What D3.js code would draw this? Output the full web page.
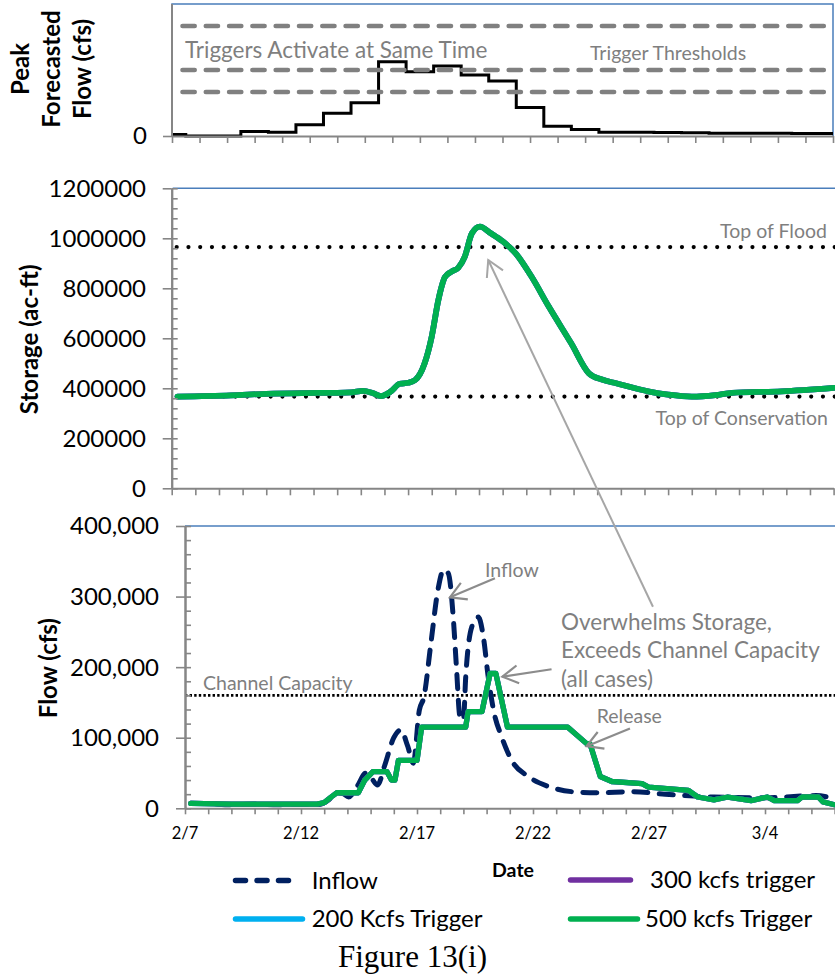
<!DOCTYPE html>
<html>
<head>
<meta charset="utf-8">
<script src="https://cdn.jsdelivr.net/npm/d3@7"></script>
<style>
  html, body { margin: 0; padding: 0; background: #fff; }
  svg { display: block; font-family: Lato, "Open Sans", sans-serif; }
</style>
</head>
<body>
<svg id="chart" width="835" height="979"></svg>
<script>
// ---------- data ----------
// Peak forecasted flow (cfs), one value per forecast issue; the first value is
// carried over from the forecast issued before the window.
const peakForecastBefore = 7000;
const peakForecast = [0, 500, 20000, 17000, 51000, 103000, 151000, 338000, 292000, 318000,
  277000, 250000, 129000, 44000, 30000, 17000, 17000, 16000, 15000, 12000,
  12000, 12000, 11000, 11000];
const triggerThresholds = [200000, 300000, 500000];

// Reservoir storage (ac-ft), day offset from 2/7
const storageDays = [0.25, 2.5, 4, 5.5, 7, 7.6, 8.1, 8.5, 8.85, 9.25, 9.65, 10.0, 10.3, 10.7,
  11.0, 11.28, 11.56, 11.84, 12.12, 12.4, 12.7, 13.04, 13.5, 14.0, 14.55, 15.2, 15.95,
  16.9, 17.65, 18.2, 18.8, 20.2, 21.0, 22.0, 23.0, 23.7, 25.8, 28.0];
const storageValues = [367000, 372000, 378000, 381000, 382000, 384000, 390000, 381000, 369000,
  386000, 418000, 422000, 433000, 500000, 607000, 753000, 845000, 867000, 882000, 927000,
  1020000, 1047000, 1020000, 988000, 940000, 850000, 727000, 580000, 460000, 435000, 420000,
  387000, 375000, 367000, 373000, 382000, 388000, 402000];
const topOfFlood = 965000;
const topOfConservation = 367000;
const storageTicks = [0, 200000, 400000, 600000, 800000, 1000000, 1200000];

// Inflow and release (cfs), day offset from 2/7
const inflowDays = [0.25, 1, 2, 3, 4, 5, 5.8, 6.2, 6.5, 6.8, 7.05, 7.4, 7.8, 8.05, 8.3, 8.6,
  9.0, 9.3, 9.6, 9.84, 10.1, 10.3, 10.6, 10.9, 11.15, 11.35, 11.57, 11.7, 11.85, 12.0, 12.1,
  12.36, 12.64, 12.86, 13.07, 13.3, 13.65, 14.08, 14.8, 15.66, 16.7, 17.8, 19.25, 20.7, 22.8,
  25.0, 27.2, 28.0];
const inflowValues = [7000, 6500, 5000, 6000, 5000, 5500, 5500, 12000, 22000, 21000, 16000,
  30000, 50000, 42000, 33000, 60000, 100000, 111000, 88000, 64000, 139000, 158000, 234000,
  309000, 338000, 333000, 267000, 200000, 130000, 125000, 186000, 257000, 271000, 243000,
  186000, 139000, 101000, 68000, 45000, 31000, 23500, 22000, 23500, 20000, 16000, 15000,
  18000, 13600];
const releaseDays = [0.25, 2, 5.7, 6.0, 6.3, 6.54, 7.47, 7.75, 8.1, 8.7, 8.9, 9.05, 9.2, 10.0,
  10.2, 12.1, 12.2, 12.8, 13.15, 13.4, 13.9, 16.5, 17.3, 17.46, 17.9, 18.4, 19.7, 19.98,
  21.7, 22.1, 22.8, 23.4, 24.4, 25.1, 25.4, 26.4, 26.6, 27.3, 27.5, 28.0];
const releaseValues = [7000, 6000, 6000, 8000, 16000, 22000, 22000, 40000, 52000, 52000,
  40000, 40000, 68000, 68000, 115000, 115000, 137000, 137000, 191000, 191000, 115000, 115000,
  92000, 91000, 45000, 38000, 35000, 30000, 25500, 16000, 12000, 16000, 11000, 16000, 11000,
  11000, 16000, 16000, 9000, 5000];
const channelCapacity = 160000;
const flowTicks = [0, 100000, 200000, 300000, 400000];
const dateLabels = ["2/7", "2/12", "2/17", "2/22", "2/27", "3/4"];

// Release series for each trigger scenario (all triggers fire together, so they coincide)
const scenarios = [
  { name: "200 Kcfs Trigger", color: "#00B0F0" },
  { name: "300 kcfs trigger", color: "#7030A0" },
  { name: "500 kcfs Trigger", color: "#00B050" }
];

// ---------- styles ----------
const AXIS = "#868686", BORDER = "#4a7ebb", NOTE = "#7f7f7f", ARROW = "#8c8c8c";
const INFLOW = "#002060";

const svg = d3.select("#chart");

function styleAxis(g) {
  g.select(".domain").attr("stroke", AXIS).attr("stroke-width", 2);
  g.selectAll(".tick line").attr("stroke", AXIS).attr("stroke-width", 1.6);
  g.selectAll(".tick text").remove();
}

function arrow(g, x1, y1, x2, y2, color, w) {
  const a = Math.atan2(y1 - y2, x1 - x2), L = 18, s = 0.52;
  g.append("line").attr("x1", x1).attr("y1", y1).attr("x2", x2).attr("y2", y2)
    .attr("stroke", color).attr("stroke-width", w);
  g.append("path")
    .attr("d", `M${x2 + L * Math.cos(a - s)},${y2 + L * Math.sin(a - s)}L${x2},${y2}L${x2 + L * Math.cos(a + s)},${y2 + L * Math.sin(a + s)}`)
    .attr("fill", "none").attr("stroke", color).attr("stroke-width", w)
    .attr("stroke-linejoin", "miter");
}

function note(g, x, y, text, size, anchor) {
  return g.append("text").attr("x", x).attr("y", y).attr("dy", "0.35em")
    .attr("text-anchor", anchor || "start").attr("fill", NOTE)
    .style("font-size", size + "px").text(text);
}

// ---------- top panel: peak forecasted flow ----------
const xTop = d3.scaleLinear().domain([-0.5, 23.5]).range([172, 833]);
const yTop = d3.scaleLinear().domain([0, 600000]).range([136, 4]);
const topG = svg.append("g");

topG.append("path")
  .attr("d", `M${xTop(-0.5)},${yTop(0)}V${yTop(600000)}H${xTop(23.5)}V${yTop(0)}`)
  .attr("fill", "none").attr("stroke", BORDER).attr("stroke-width", 1.5);

const stepPts = [{ x: -0.5, v: peakForecastBefore }]
  .concat(peakForecast.map((v, i) => ({ x: i, v })))
  .concat([{ x: 23.5, v: peakForecast[peakForecast.length - 1] }]);
topG.append("path").datum(stepPts)
  .attr("d", d3.line().x(d => xTop(d.x)).y(d => yTop(d.v)).curve(d3.curveStepAfter))
  .attr("fill", "none").attr("stroke", "#000").attr("stroke-width", 3);

topG.selectAll("line.thr").data(triggerThresholds).join("line")
  .attr("x1", xTop(-0.5)).attr("x2", xTop(23.5))
  .attr("y1", d => yTop(d)).attr("y2", d => yTop(d))
  .attr("stroke", "#808080").attr("stroke-width", 4.6)
  .attr("stroke-linecap", "round")
  .attr("stroke-dasharray", "12.2 11.1").attr("stroke-dashoffset", -10.5);

topG.append("g").attr("transform", `translate(0,${yTop(0)})`)
  .call(d3.axisBottom(xTop).tickValues(d3.range(25).map(i => i - 0.5)).tickSize(7).tickSizeOuter(0))
  .call(styleAxis);
topG.append("g").attr("transform", `translate(${xTop(-0.5)},0)`)
  .call(d3.axisLeft(yTop).tickValues([0]).tickSize(9).tickSizeOuter(0))
  .call(styleAxis)
  .call(g => g.select(".domain").attr("d", `M0,${yTop(0)}V${yTop(600000)}`));
topG.append("text").attr("x", 147).attr("y", yTop(0)).attr("dy", "0.35em")
  .attr("text-anchor", "end").style("font-size", "24px").text("0");

note(topG, 185, 50, "Triggers Activate at Same Time", 22.5);
note(topG, 590, 53, "Trigger Thresholds", 19.5);

const topTitle = topG.append("text").attr("transform", "translate(0,69) rotate(-90)")
  .attr("text-anchor", "middle").style("font-size", "24px").style("font-weight", "bold");
["Peak", "Forecasted", "Flow (cfs)"].forEach((t, i) =>
  topTitle.append("tspan").attr("x", 0).attr("y", 29 + i * 31).text(t));

// ---------- middle panel: storage ----------
const xMid = d3.scaleLinear().domain([0, 28]).range([171.7, 833.6]);
const yMid = d3.scaleLinear().domain([0, 1200000]).range([488.3, 188.3]);
const midG = svg.append("g");

midG.append("line").attr("x1", xMid(0) + 1).attr("x2", 835)
  .attr("y1", yMid(1200000)).attr("y2", yMid(1200000))
  .attr("stroke", BORDER).attr("stroke-width", 1.5);

midG.selectAll("line.pool").data([topOfFlood, topOfConservation]).join("line")
  .attr("x1", xMid(0) + 5).attr("x2", 835)
  .attr("y1", d => yMid(d)).attr("y2", d => yMid(d))
  .attr("stroke", "#000").attr("stroke-width", 4.2).attr("stroke-linecap", "round")
  .attr("stroke-dasharray", "0 11.75");

const storageLine = d3.line().x((d, i) => xMid(storageDays[i])).y(d => yMid(d))
  .curve(d3.curveMonotoneX);
scenarios.forEach(s => {
  midG.append("path").datum(storageValues).attr("d", storageLine)
    .attr("fill", "none").attr("stroke", s.color).attr("stroke-width", 5.8)
    .attr("stroke-linecap", "round").attr("stroke-linejoin", "round");
});

midG.append("g").attr("transform", `translate(0,${yMid(0)})`)
  .call(d3.axisBottom(xMid).tickValues(d3.range(29)).tickSize(7).tickSizeOuter(0))
  .call(styleAxis);
midG.append("g").attr("transform", `translate(${xMid(0)},0)`)
  .call(d3.axisRight(yMid).tickValues(d3.range(0, 1200001, 40000)).tickSize(6).tickSizeOuter(0))
  .call(styleAxis);
midG.append("g").attr("transform", `translate(${xMid(0)},0)`)
  .call(d3.axisLeft(yMid).tickValues(storageTicks).tickSize(9).tickSizeOuter(0))
  .call(styleAxis);
midG.selectAll("text.yl").data(storageTicks).join("text")
  .attr("x", 146).attr("y", d => yMid(d)).attr("dy", "0.35em")
  .attr("text-anchor", "end").style("font-size", "24px").text(d => d);

midG.append("text").attr("transform", `translate(38,${(yMid(0) + yMid(1200000)) / 2 + 1}) rotate(-90)`)
  .attr("text-anchor", "middle").style("font-size", "24px").style("font-weight", "bold")
  .text("Storage (ac-ft)");

note(midG, 827, yMid(topOfFlood) - 16, "Top of Flood", 19.5, "end");
note(midG, 828, yMid(topOfConservation) + 22, "Top of Conservation", 19.5, "end");

// ---------- bottom panel: flows ----------
const xBot = d3.scaleLinear().domain([0, 28]).range([185, 834.6]);
const yBot = d3.scaleLinear().domain([0, 400000]).range([808.3, 526]);
const botG = svg.append("g");

botG.append("line").attr("x1", xBot(0)).attr("x2", 835)
  .attr("y1", yBot(400000)).attr("y2", yBot(400000))
  .attr("stroke", BORDER).attr("stroke-width", 1.5);

botG.append("line").attr("x1", xBot(0)).attr("x2", 835)
  .attr("y1", yBot(channelCapacity)).attr("y2", yBot(channelCapacity))
  .attr("stroke", "#000").attr("stroke-width", 2.6)
  .attr("stroke-dasharray", "2.4 2.2");

botG.append("path").datum(inflowValues)
  .attr("d", d3.line().x((d, i) => xBot(inflowDays[i])).y(d => yBot(d)).curve(d3.curveMonotoneX))
  .attr("fill", "none").attr("stroke", INFLOW).attr("stroke-width", 5)
  .attr("stroke-linecap", "round").attr("stroke-dasharray", "14 11.5");

const releaseLine = d3.line().x((d, i) => xBot(releaseDays[i])).y(d => yBot(d));
scenarios.forEach(s => {
  botG.append("path").datum(releaseValues).attr("d", releaseLine)
    .attr("fill", "none").attr("stroke", s.color).attr("stroke-width", 5.3)
    .attr("stroke-linecap", "round").attr("stroke-linejoin", "round");
});

botG.append("g").attr("transform", `translate(0,${yBot(0)})`)
  .call(d3.axisBottom(xBot).tickValues(d3.range(29)).tickSize(6).tickSizeOuter(0))
  .call(styleAxis);
botG.append("g").attr("transform", `translate(${xBot(0)},0)`)
  .call(d3.axisRight(yBot).tickValues(d3.range(0, 400001, 20000)).tickSize(6).tickSizeOuter(0))
  .call(styleAxis);
botG.append("g").attr("transform", `translate(${xBot(0)},0)`)
  .call(d3.axisLeft(yBot).tickValues(flowTicks).tickSize(9).tickSizeOuter(0))
  .call(styleAxis);
botG.selectAll("text.yl").data(flowTicks).join("text")
  .attr("x", 159).attr("y", d => yBot(d)).attr("dy", "0.35em")
  .attr("text-anchor", "end").style("font-size", "24px").text(d3.format(","));
botG.selectAll("text.xl").data(dateLabels).join("text")
  .attr("x", (d, i) => xBot(i * 5)).attr("y", 833.5).attr("dy", "0.35em")
  .attr("text-anchor", "middle").style("font-size", "16.5px").text(d => d);

botG.append("text").attr("transform", `translate(57,${(yBot(0) + yBot(400000)) / 2 + 1}) rotate(-90)`)
  .attr("text-anchor", "middle").style("font-size", "24px").style("font-weight", "bold")
  .text("Flow (cfs)");

note(botG, 203, yBot(channelCapacity) - 12.5, "Channel Capacity", 19.5);
note(botG, 485, 570, "Inflow", 19.5);
note(botG, 561, 621.7, "Overwhelms Storage,", 22.5);
note(botG, 561, 650, "Exceeds Channel Capacity", 22.5);
note(botG, 561, 679.3, "(all cases)", 22.5);
note(botG, 596.7, 715.7, "Release", 19.5);

// Annotation arrows
const ann = svg.append("g");
arrow(ann, xBot(20.17), yBot(285600), xMid(13.39), yMid(913000), "#a6a6a6", 2);
arrow(ann, xBot(13.36), yBot(326000), xBot(11.42), yBot(299000), ARROW, 2.2);
arrow(ann, xBot(15.8), yBot(197000), xBot(13.68), yBot(186500), ARROW, 2.2);
arrow(ann, xBot(19.18), yBot(113000), xBot(17.31), yBot(88000), ARROW, 2.2);

// ---------- legend ----------
const leg = svg.append("g");
leg.append("text").attr("x", 513).attr("y", 870).attr("dy", "0.35em")
  .attr("text-anchor", "middle").style("font-size", "19.5px").style("font-weight", "bold")
  .text("Date");

const legendItems = [
  { name: "Inflow", color: INFLOW, dash: true, x: 233, x2: 295, tx: 311.7, y: 880.5 },
  { name: scenarios[1].name, color: scenarios[1].color, x: 568, x2: 633, tx: 650, y: 880 },
  { name: scenarios[0].name, color: scenarios[0].color, x: 233, x2: 305, tx: 311.7, y: 919 },
  { name: scenarios[2].name, color: scenarios[2].color, x: 568, x2: 640, tx: 645, y: 919 }
];
legendItems.forEach(d => {
  leg.append("line").attr("x1", d.x + 2.5).attr("x2", d.x2 - 2.5).attr("y1", d.y).attr("y2", d.y)
    .attr("stroke", d.color).attr("stroke-width", 5.5).attr("stroke-linecap", "round")
    .attr("stroke-dasharray", d.dash ? "10 11.5" : null);
  leg.append("text").attr("x", d.tx).attr("y", d.y).attr("dy", "0.35em")
    .style("font-size", "24px").attr("fill", "#000").text(d.name);
});

svg.append("text").attr("x", 412.5).attr("y", 966.7).attr("text-anchor", "middle")
  .style("font-family", "'Liberation Serif', 'Times New Roman', serif")
  .style("font-size", "31px").text("Figure 13(i)");
</script>
</body>
</html>
